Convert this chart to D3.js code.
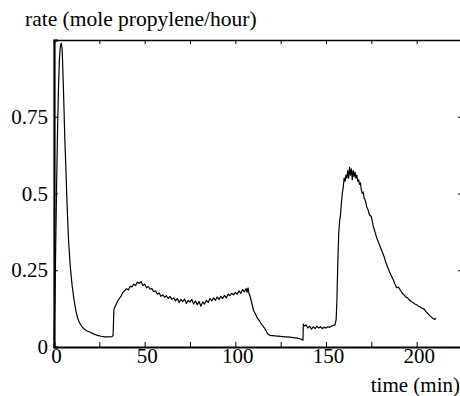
<!DOCTYPE html>
<meta charset="utf-8">
<script src="https://d3js.org/d3.v7.min.js"></script>
<style>
  body { margin: 0; background: #fff; }
</style>
<div id="my_dataviz"></div>
<script>

// time (min) and rate (mole propylene/hour)
var times = [0, 0.5, 1, 1.5, 2, 2.5, 3, 3.5, 4, 4.5, 5, 5.5, 6, 6.5, 7, 7.5, 8, 9, 10, 11,
  12, 13, 14, 15, 16, 17, 18, 20, 22, 24, 26, 28, 30, 32, 32.6, 33, 33.5, 34, 35, 36,
  37, 38, 39, 40, 41, 42, 43, 44, 45, 46, 47, 48, 49, 50, 51, 52, 53, 54, 55, 56,
  57, 58, 59, 60, 61, 62, 63, 64, 65, 66, 67, 68, 69, 70, 71, 72, 73, 74, 75, 76,
  77, 78, 79, 80, 81, 82, 83, 84, 85, 86, 87, 88, 89, 90, 91, 92, 93, 94, 95, 96,
  97, 98, 99, 100, 101, 102, 103, 104, 105, 106, 106.5, 107, 107.5, 108, 109, 110, 111, 112, 113, 114,
  115, 116, 117, 118, 119, 122, 126, 130, 134, 136, 137.3, 137.5, 138, 139, 140, 141, 142, 143, 144, 145,
  146, 147, 148, 149, 150, 151, 152, 153, 154, 155, 155.6, 156, 156.5, 157, 157.5, 158, 158.5, 159, 159.5, 160,
  160.5, 161, 161.5, 162, 162.5, 163, 163.5, 164, 164.5, 165, 165.5, 166, 166.5, 167, 167.5, 168, 168.5, 169, 169.5, 170,
  170.5, 171, 171.5, 172, 172.5, 173, 173.5, 174, 175, 175.5, 176, 177, 178, 179, 180, 181, 182, 183, 184, 185,
  186, 187, 188, 189, 190, 191, 192, 193, 194, 195, 196, 197, 198, 199, 200, 201, 202, 203, 204, 205,
  206, 207, 208, 209, 210, 210.5];

var rates = [0.02, 0.15, 0.35, 0.55, 0.72, 0.85, 0.94, 0.98, 0.99, 0.97, 0.88, 0.78, 0.67, 0.59, 0.5, 0.42, 0.35, 0.26, 0.2, 0.155,
  0.12, 0.095, 0.08, 0.07, 0.062, 0.057, 0.053, 0.048, 0.042, 0.038, 0.035, 0.033, 0.033, 0.034, 0.038, 0.12, 0.13, 0.135, 0.148, 0.158,
  0.166, 0.178, 0.183, 0.19, 0.186, 0.198, 0.196, 0.205, 0.2, 0.212, 0.207, 0.213, 0.2, 0.205, 0.193, 0.197, 0.188, 0.19, 0.18, 0.183,
  0.172, 0.176, 0.165, 0.17, 0.162, 0.167, 0.158, 0.165, 0.155, 0.16, 0.15, 0.158, 0.145, 0.155, 0.148, 0.156, 0.142, 0.152, 0.146, 0.155,
  0.14, 0.15, 0.138, 0.148, 0.133, 0.147, 0.14, 0.152, 0.145, 0.158, 0.15, 0.16, 0.152, 0.163, 0.155, 0.165, 0.158, 0.168, 0.16, 0.172,
  0.167, 0.175, 0.17, 0.178, 0.172, 0.183, 0.175, 0.187, 0.18, 0.19, 0.178, 0.193, 0.175, 0.168, 0.145, 0.12, 0.108, 0.095, 0.088, 0.078,
  0.07, 0.062, 0.052, 0.042, 0.038, 0.036, 0.034, 0.032, 0.029, 0.026, 0.022, 0.075, 0.068, 0.072, 0.062, 0.068, 0.058, 0.066, 0.06, 0.068,
  0.062, 0.066, 0.06, 0.064, 0.062, 0.066, 0.064, 0.068, 0.07, 0.072, 0.09, 0.15, 0.27, 0.37, 0.41, 0.43, 0.47, 0.5, 0.52, 0.55,
  0.54, 0.56, 0.55, 0.575, 0.55, 0.585, 0.56, 0.58, 0.545, 0.575, 0.555, 0.57, 0.55, 0.56, 0.54, 0.545, 0.53, 0.535, 0.51, 0.5,
  0.505, 0.485, 0.48, 0.47, 0.455, 0.45, 0.44, 0.43, 0.425, 0.41, 0.395, 0.375, 0.355, 0.34, 0.325, 0.31, 0.295, 0.275, 0.26, 0.245,
  0.232, 0.22, 0.205, 0.193, 0.195, 0.185, 0.176, 0.17, 0.163, 0.16, 0.153, 0.148, 0.145, 0.14, 0.138, 0.133, 0.13, 0.126, 0.124, 0.116,
  0.11, 0.103, 0.098, 0.093, 0.09, 0.095];

var xTicks = [0, 25, 50, 75, 100, 125, 150, 175, 200, 225];
var xLabels = [0, 50, 100, 150, 200];
var yTicks = [0, 0.25, 0.5, 0.75];

var serif = "'Liberation Serif', 'DejaVu Serif', 'Times New Roman', Times, serif";

var data = times.map(function(t, i) { return {t: t, v: rates[i]}; });

// set the dimensions and margins of the graph
var margin = {top: 40, right: 0, bottom: 49, left: 54},
    width = 462 - margin.left,
    height = 396 - margin.top - margin.bottom;

var root = d3.select("#my_dataviz")
  .append("svg")
    .attr("width", 460)
    .attr("height", 396);

var svg = root.append("g")
    .attr("transform", "translate(" + margin.left + "," + margin.top + ")");

var x = d3.scaleLinear().domain([0, 225]).range([0, width]);
var y = d3.scaleLinear().domain([0, 1]).range([height, 0]);

// bottom axis, ticks pointing in
svg.append("g")
  .attr("transform", "translate(0," + height + ")")
  .call(d3.axisBottom(x).tickValues(xTicks).tickSize(-5).tickPadding(1)
    .tickFormat(function(d) { return xLabels.indexOf(d) >= 0 ? d : ""; }))
  .call(function(g) {
    g.selectAll("text").attr("dx", 2);
    g.select(".domain").attr("stroke-width", 2);
  });

// top axis
svg.append("g")
  .call(d3.axisTop(x).tickValues(xTicks).tickSize(-4).tickFormat(""))
  .call(function(g) { g.select(".domain").attr("stroke-width", 1.5); });

// left axis
svg.append("g")
  .call(d3.axisLeft(y).tickValues(yTicks).tickSize(-4).tickPadding(6)
    .tickFormat(function(d) { return d; }))
  .call(function(g) { g.select(".domain").attr("stroke-width", 2.2); });

// right axis
svg.append("g")
  .attr("transform", "translate(" + width + ",0)")
  .call(d3.axisRight(y).tickValues([0.25, 0.5, 0.75]).tickSize(-4).tickFormat(""));

svg.selectAll(".domain").attr("stroke", "#000");
svg.selectAll(".tick line").attr("stroke", "#000");
svg.selectAll(".tick text")
  .attr("fill", "#000")
  .style("font-family", serif)
  .style("font-size", "21px");

// the rate curve
svg.append("path")
  .datum(data)
  .attr("fill", "none")
  .attr("stroke", "#000")
  .attr("stroke-width", 1.2)
  .attr("stroke-linejoin", "round")
  .attr("d", d3.line()
    .x(function(d) { return x(d.t); })
    .y(function(d) { return y(d.v); }));

// axis titles
root.append("text")
  .attr("x", 25)
  .attr("y", 26)
  .style("font-family", serif)
  .style("font-size", "21.5px")
  .text("rate (mole propylene/hour)");

root.append("text")
  .attr("x", 460)
  .attr("y", 392)
  .attr("text-anchor", "end")
  .style("font-family", serif)
  .style("font-size", "21px")
  .text("time (min)");

</script>
